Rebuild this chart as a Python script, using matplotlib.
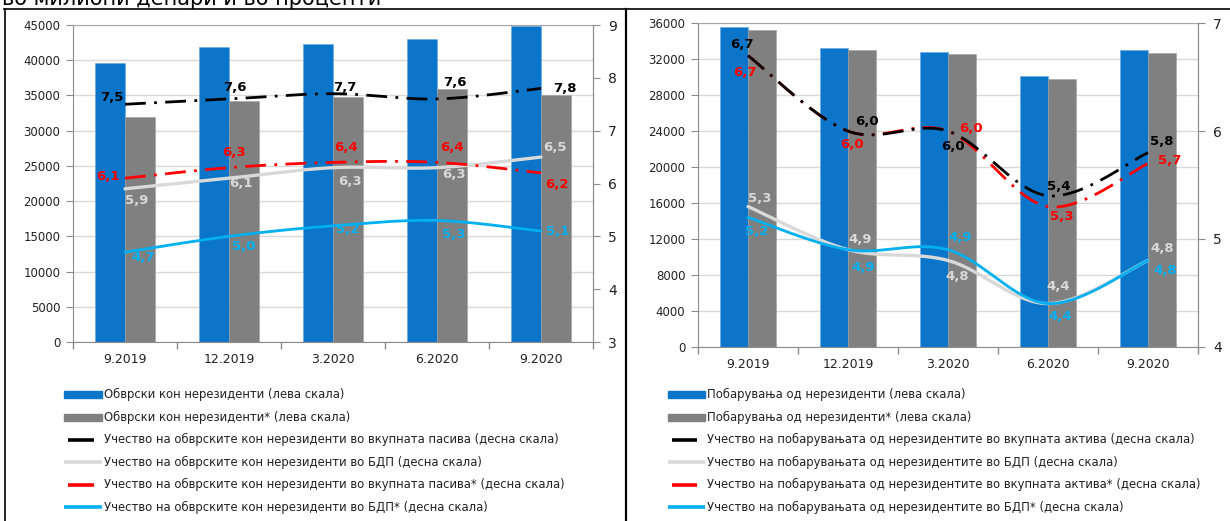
import numpy as np
import matplotlib
matplotlib.use("Agg")
import matplotlib.pyplot as plt
from matplotlib.lines import Line2D
from matplotlib.patches import Rectangle

plt.rcParams["font.family"] = ["DejaVu Sans"]

# ---------------- data ----------------
periods = ["9.2019", "12.2019", "3.2020", "6.2020", "9.2020"]

# liabilities to non-residents (left panel)
liab = [39600, 41900, 42300, 43000, 44800]
liab_adj = [32000, 34200, 34800, 35900, 35000]
liab_share_assets = [7.5, 7.6, 7.7, 7.6, 7.8]
liab_share_gdp = [5.9, 6.1, 6.3, 6.3, 6.5]
liab_share_assets_adj = [6.1, 6.3, 6.4, 6.4, 6.2]
liab_share_gdp_adj = [4.7, 5.0, 5.2, 5.3, 5.1]

# claims on non-residents (right panel)
claims = [35600, 33200, 32800, 30100, 33000]
claims_adj = [35200, 33000, 32600, 29800, 32700]
claims_share_assets = [6.7, 6.0, 6.0, 5.4, 5.8]
claims_share_gdp = [5.3, 4.9, 4.8, 4.4, 4.8]
claims_share_assets_adj = [6.7, 6.0, 6.0, 5.3, 5.7]
claims_share_gdp_adj = [5.2, 4.9, 4.9, 4.4, 4.8]

legend_left = [
    "Обврски кон нерезиденти (лева скала)",
    "Обврски кон нерезиденти* (лева скала)",
    "Учество на обврските кон нерезиденти во вкупната пасива (десна скала)",
    "Учество на обврските кон нерезиденти во БДП (десна скала)",
    "Учество на обврските кон нерезиденти во вкупната пасива* (десна скала)",
    "Учество на обврските кон нерезиденти во БДП* (десна скала)",
]
legend_right = [
    "Побарувања од нерезиденти (лева скала)",
    "Побарувања од нерезиденти* (лева скала)",
    "Учество на побарувањата од нерезидентите во вкупната актива (десна скала)",
    "Учество на побарувањата од нерезидентите во БДП (десна скала)",
    "Учество на побарувањата од нерезидентите во вкупната актива* (десна скала)",
    "Учество на побарувањата од нерезидентите во БДП* (десна скала)",
]
title = "во милиони денари и во проценти"

# ---------------- style ----------------
BLUE = "#0a75c9"
GRAY = "#808080"
BLACK = "#000000"
LIGHT = "#d9d9d9"
RED = "#ff0000"
CYAN = "#00b0f0"
SPINE = "#8c8c8c"
GRID = "#d9d9d9"
TICK_FS = 8.5
LABEL_FS = 9.5
LEG_FS = 8.35
DASHDOT = (7.5, 3, 1, 3)

W, H = 1230, 521
fig = plt.figure(figsize=(W / 100, H / 100), dpi=100)


def box(x0, y0, x1, y1):
    return [x0 / W, 1 - y1 / H, (x1 - x0) / W, (y1 - y0) / H]


def fx(x):
    return x / W


def fy(y):
    return 1 - y / H


def smooth(xs, ys, n=40):
    """Bezier smoothing through the points (Catmull-Rom style)."""
    P = np.column_stack([xs, ys]).astype(float)
    E = np.vstack([P[0], P, P[-1]])
    out = []
    t = np.linspace(0, 1, n)[:, None]
    for i in range(len(P) - 1):
        p0, p1, p2, p3 = E[i], E[i + 1], E[i + 2], E[i + 3]
        c1 = p1 + (p2 - p0) / 6
        c2 = p2 - (p3 - p1) / 6
        seg = (1 - t) ** 3 * p1 + 3 * (1 - t) ** 2 * t * c1 + 3 * (1 - t) * t ** 2 * c2 + t ** 3 * p2
        out.append(seg if i == 0 else seg[1:])
    S = np.vstack(out)
    return S[:, 0], S[:, 1]


def fmt(v):
    return f"{v:.1f}".replace(".", ",")


def panel(rect, bars_a, bars_b, ymax, ystep, y2lim, series, bar_w):
    ax = fig.add_axes(rect)
    x = np.arange(len(periods))
    ax.bar(x - bar_w / 2, bars_a, bar_w, color=BLUE, zorder=2, edgecolor="#5fa8e6", linewidth=0.4)
    ax.bar(x + bar_w / 2, bars_b, bar_w, color=GRAY, zorder=2, edgecolor="#a0a0a0", linewidth=0.4)
    ax.set_xlim(-0.5, len(periods) - 0.5)
    ax.set_ylim(0, ymax)
    ax.set_yticks(np.arange(0, ymax + 1, ystep))
    ax.set_yticklabels([str(int(v)) for v in np.arange(0, ymax + 1, ystep)])
    ax.yaxis.grid(True, color=GRID, lw=1)
    ax.set_axisbelow(True)
    ax.set_xticks(x)
    ax.set_xticklabels(periods)
    ax.set_xticks(np.arange(-0.5, len(periods), 1), minor=True)
    ax.tick_params(axis="x", which="major", length=0, pad=8, labelsize=TICK_FS + 0.5, colors="#222222")
    ax.tick_params(axis="x", which="minor", length=5, color=SPINE, width=1)
    ax.tick_params(axis="y", length=5, color=SPINE, labelsize=TICK_FS, colors="#222222", pad=4)
    for s in ax.spines.values():
        s.set_color(SPINE)
    ax.spines["top"].set_color("#a6a6a6")

    ax2 = ax.twinx()
    ax2.set_ylim(*y2lim)
    ax2.set_yticks(np.arange(y2lim[0], y2lim[1] + 1, 1))
    ax2.tick_params(axis="y", length=5, color=SPINE, labelsize=TICK_FS + 1.5, colors="#222222", pad=6)
    for s in ax2.spines.values():
        s.set_visible(False)
    ax2.spines["right"].set_visible(True)
    ax2.spines["right"].set_color(SPINE)

    for vals, color, lw, dashed, offsets, z in series:
        sx, sy = smooth(x, vals)
        if dashed:
            ax2.plot(sx, sy, color=color, lw=lw, dashes=DASHDOT, zorder=z,
                     dash_capstyle="butt")
        else:
            ax2.plot(sx, sy, color=color, lw=lw, zorder=z, solid_capstyle="round")
        for i, (v, (dx, dy)) in enumerate(zip(vals, offsets)):
            ax2.annotate(fmt(v), (x[i], v), xytext=(dx, -dy), textcoords="offset pixels",
                         ha="center", va="center", fontsize=LABEL_FS, fontweight="bold",
                         color=color, zorder=z + 1)
    return ax, ax2


# left panel: liabilities
left_series = [
    (liab_share_gdp, LIGHT, 2.4, False,
     [(12, 12), (12, 5), (17, 14), (17, 7), (14, -10)], 3),
    (liab_share_gdp_adj, CYAN, 2.0, False,
     [(18, 5), (15, 10), (15, 4), (17, 14), (17, 0)], 4),
    (liab_share_assets_adj, RED, 2.0, True,
     [(-17, -2), (5, -15), (13, -15), (15, -15), (16, 12)], 5),
    (liab_share_assets, BLACK, 2.0, True,
     [(-13, -7), (6, -11), (12, -6), (18, -16), (24, 0)], 6),
]
panel(box(73, 25, 593, 342), liab, liab_adj, 45000, 5000, (3, 9), left_series, 0.284)

# right panel: claims
right_series = [
    (claims_share_gdp, LIGHT, 2.4, False,
     [(12, -8), (12, -10), (9, 16), (10, -17), (14, -12)], 3),
    (claims_share_gdp_adj, CYAN, 2.0, False,
     [(9, 14), (15, 18), (12, -12), (12, 13), (17, 10)], 4),
    (claims_share_assets_adj, RED, 2.0, True,
     [(-3, 17), (4, 13), (23, -3), (14, 10), (22, -3)], 5),
    (claims_share_assets, BLACK, 2.0, True,
     [(-6, -11), (19, -10), (5, 15), (11, -9), (14, -11)], 6),
]
panel(box(698, 23.3, 1198, 346.7), claims, claims_adj, 36000, 4000, (4, 7), right_series, 0.28)


# ---------------- legends ----------------
def legend(x_handle0, x_handle1, x_text, rows_y, texts):
    styles = ["bar_blue", "bar_gray", ("line", BLACK, True), ("line", LIGHT, False),
              ("line", RED, True), ("line", CYAN, False)]
    for y, txt, st in zip(rows_y, texts, styles):
        if st == "bar_blue" or st == "bar_gray":
            c = BLUE if st == "bar_blue" else GRAY
            fig.add_artist(Rectangle((fx(x_handle0), fy(y + 3.5)), fx(x_handle1 - x_handle0), 7 / H,
                                     transform=fig.transFigure, color=c))
        else:
            _, c, short = st
            if short:
                xa, xb = x_handle0 + 4, x_handle1 - 8
            else:
                xa, xb = x_handle0, x_handle1
            fig.add_artist(Line2D([fx(xa), fx(xb)], [fy(y), fy(y)], transform=fig.transFigure,
                                  color=c, lw=2.6, solid_capstyle="butt"))
        fig.text(fx(x_text), fy(y), txt, fontsize=LEG_FS, color="#222222", va="center", ha="left")


rows = [394.5, 417, 439.5, 462, 484.5, 507]
legend(64, 102, 104, rows, legend_left)
legend(668, 705, 707, rows, legend_right)

# ---------------- frame ----------------
fig.add_artist(Line2D([fx(4), 1], [fy(9), fy(9)], transform=fig.transFigure, color="black", lw=1.2))
fig.add_artist(Line2D([fx(5), fx(5)], [fy(9), 0], transform=fig.transFigure, color="black", lw=1.2))
fig.add_artist(Line2D([fx(626), fx(626)], [fy(9), 0], transform=fig.transFigure, color="black", lw=1.6))
fig.text(fx(2), fy(5), title, fontsize=15, va="baseline", ha="left", color="black")

fig.savefig("out.png", dpi=100)
